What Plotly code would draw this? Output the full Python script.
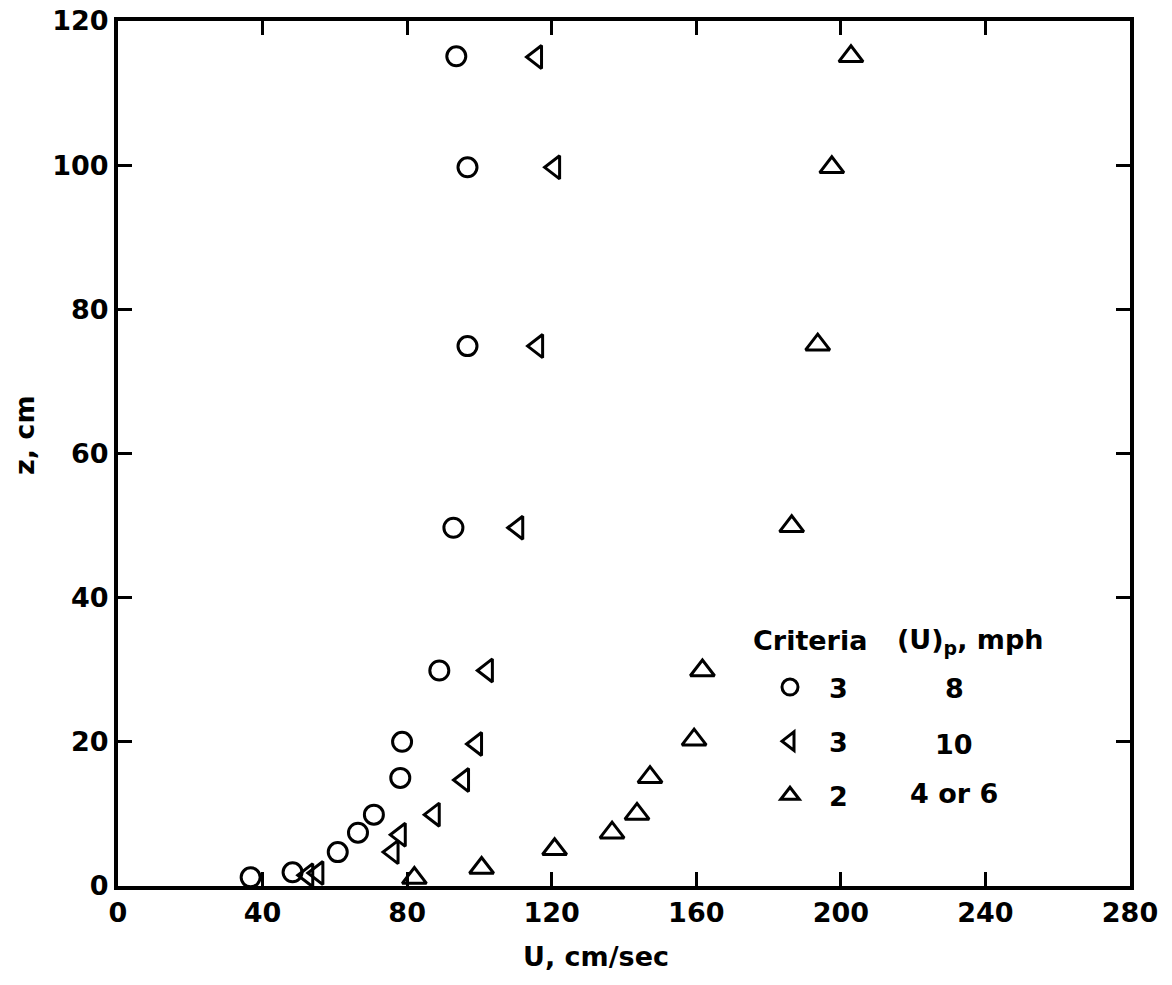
import plotly.graph_objects as go

# Data
u_circle = [93.6, 96.7, 96.7, 92.8, 88.9, 78.6, 78.1, 70.8, 66.4, 60.8, 48.3, 36.7]
z_circle = [115.1, 99.7, 74.9, 49.7, 29.9, 20.0, 15.0, 9.9, 7.4, 4.7, 1.9, 1.2]

u_ltri = [115.8, 120.8, 116.1, 110.6, 102.2, 99.2, 95.6, 87.5, 78.1, 76.1, 55.3, 52.5]
z_ltri = [115.0, 99.7, 74.9, 49.7, 29.9, 19.7, 14.7, 9.9, 7.1, 4.7, 1.8, 1.5]

u_utri = [202.8, 197.5, 193.6, 186.4, 161.7, 159.4, 147.2, 143.6, 136.7, 120.8, 100.6, 82.0]
z_utri = [115.1, 99.7, 75.1, 49.9, 29.9, 20.3, 15.1, 10.0, 7.4, 5.1, 2.5, 1.1]

criteria = ["3", "3", "2"]
up_mph = ["8", "10", "4 or 6"]

x_ticks = [0, 40, 80, 120, 160, 200, 240, 280]
y_ticks = [0, 20, 40, 60, 80, 100, 120]

FONT = "DejaVu Sans"
FS = 27
fig = go.Figure()

series = [
    (u_circle, z_circle, "circle-open", 19),
    (u_ltri, z_ltri, "triangle-left-open", 20),
    (u_utri, z_utri, "triangle-up-open", 21),
]
for i, (u, z, sym, sz) in enumerate(series):
    fig.add_trace(go.Scatter(
        x=u, y=z, mode="markers", name="\u2002\u2009" + criteria[i], legendgroup=str(i),
        marker=dict(symbol=sym, size=sz, color="black", line=dict(width=3, color="black")),
        cliponaxis=False,
    ))

W, H = 1172, 985
L, R, T, B = 118, 42, 21, 99
pw = W - L - R
ph = H - T - B

def px_x(px):
    return (px - L) / pw

def px_y(py):
    return (H - B - py) / ph

tfont = dict(family=FONT, size=FS, color="black", weight="bold")

annotations = [
    dict(text="Criteria", x=px_x(751), y=px_y(640), xanchor="left", yanchor="middle"),
    dict(text="(U)<sub>p</sub>, mph", x=px_x(895), y=px_y(642), xanchor="left", yanchor="middle"),
]
rows_y = [688, 744, 793]
for txt, yy in zip(up_mph, rows_y):
    annotations.append(dict(text=txt, x=px_x(954), y=px_y(yy), xanchor="center", yanchor="middle"))
for a in annotations:
    a.update(xref="paper", yref="paper", showarrow=False, font=tfont)

annotations.append(dict(text="U, cm/sec", xref="paper", yref="paper", x=px_x(596), y=px_y(957),
                        xanchor="center", yanchor="middle", showarrow=False, font=tfont))
annotations.append(dict(text="z, cm", xref="paper", yref="paper", x=px_x(24), y=px_y(435),
                        xanchor="center", yanchor="middle", showarrow=False, textangle=-90,
                        font=tfont))

axis_common = dict(
    showline=True, linewidth=4, linecolor="black", mirror="ticks",
    ticks="inside", ticklen=14, tickwidth=3, tickcolor="black",
    showgrid=False, zeroline=False, automargin=False,
    tickfont=tfont,
)

fig.update_layout(
    width=W, height=H,
    margin=dict(l=L, r=R, t=T, b=B),
    paper_bgcolor="white", plot_bgcolor="white",
    xaxis=dict(range=[0, 280], tickvals=x_ticks, ticktext=[str(v) for v in x_ticks], **axis_common),
    yaxis=dict(range=[0, 120], tickvals=y_ticks, ticktext=[str(v) for v in y_ticks], **axis_common),
    showlegend=True,
    legend=dict(x=px_x(770), y=px_y(663), xanchor="left", yanchor="top",
                font=tfont, bgcolor="rgba(0,0,0,0)", tracegroupgap=16),
    annotations=annotations,
)

fig.write_html("out.html")
